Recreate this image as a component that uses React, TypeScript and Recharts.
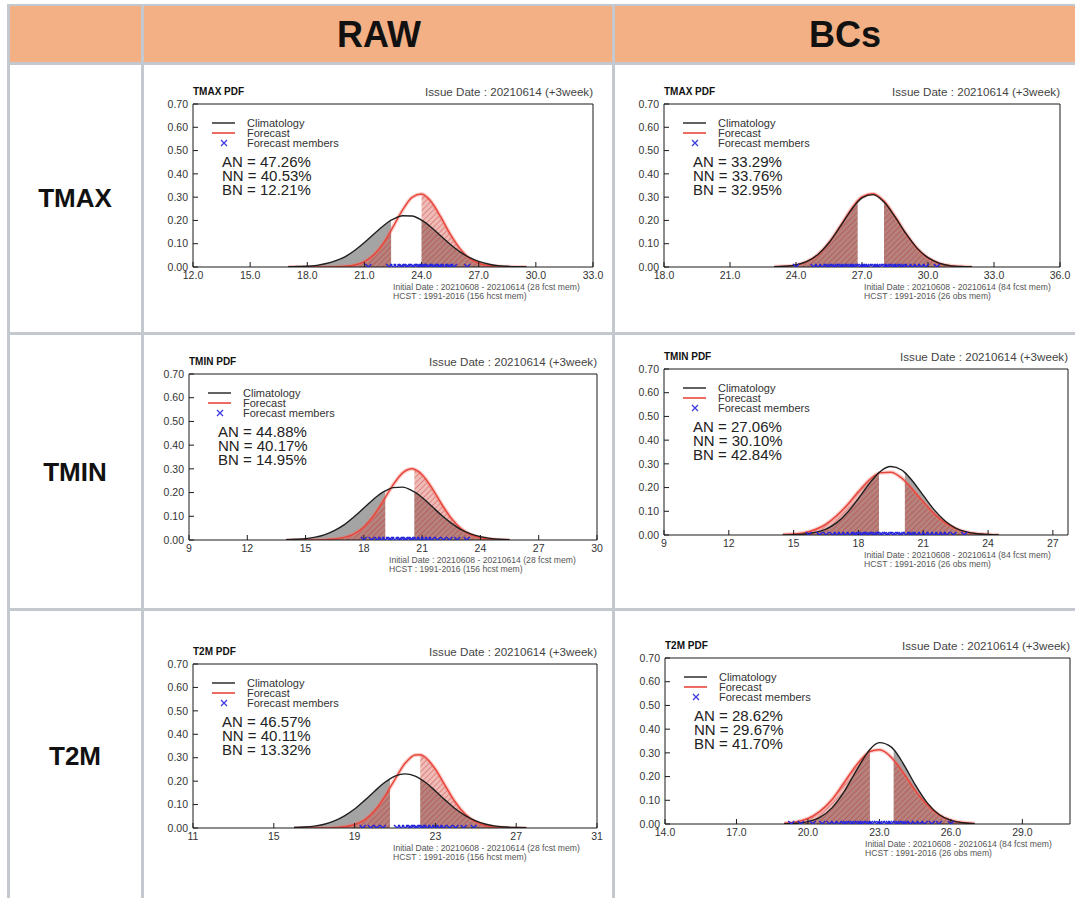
import React from "react";
import { Area, ComposedChart, Line, Scatter, XAxis, YAxis } from "recharts";

const FONT = '"Liberation Sans", Arial, Helvetica, sans-serif';

// shared y axis (probability density)
const yTicks = [0, 0.1, 0.2, 0.3, 0.4, 0.5, 0.6, 0.7];

// ---- RAW TMAX ----
const rawTmaxX = [17, 17.5, 18, 18.5, 19, 19.5, 20, 20.5, 21, 21.5, 22, 22.4, 22.5, 23, 23.5, 24, 24.5, 25, 25.5, 26, 26.5, 27, 27.5, 28, 28.5, 29, 29.5];
const rawTmaxClim = [0.001, 0.002, 0.003, 0.007, 0.015, 0.027, 0.045, 0.072, 0.105, 0.142, 0.177, 0.201, 0.205, 0.22, 0.219, 0.201, 0.171, 0.134, 0.098, 0.066, 0.041, 0.024, 0.013, 0.006, 0.003, 0.001, 0];
const rawTmaxFcst = [0, 0, 0, 0, 0, 0.001, 0.003, 0.009, 0.023, 0.053, 0.102, 0.157, 0.172, 0.244, 0.299, 0.313, 0.281, 0.216, 0.142, 0.081, 0.038, 0.016, 0.006, 0.002, 0.001, 0, 0];
const rawTmaxMembers = [21.2, 22.3, 22.5, 22.7, 22.9, 23.0, 23.2, 23.3, 23.5, 23.6, 23.8, 23.9, 24.0, 24.1, 24.3, 24.4, 24.6, 24.7, 24.9, 25.0, 25.2, 25.4, 25.5, 25.7, 26.4];
const rawTmaxTicks = [12, 15, 18, 21, 24, 27, 30, 33];
const rawTmaxTerciles = [22.4, 24.0];
const rawTmaxProbs = ["47.26", "40.53", "12.21"];

// ---- BCs TMAX ----
const bcTmaxX = [23, 23.5, 24, 24.5, 25, 25.5, 26, 26.5, 26.8, 27, 27.5, 28, 28.5, 29, 29.5, 30, 30.5, 31, 31.5, 32];
const bcTmaxClim = [0.001, 0.003, 0.009, 0.024, 0.054, 0.104, 0.172, 0.243, 0.279, 0.297, 0.311, 0.279, 0.215, 0.143, 0.081, 0.04, 0.017, 0.006, 0.002, 0];
const bcTmaxFcst = [0.001, 0.003, 0.008, 0.023, 0.053, 0.105, 0.174, 0.247, 0.284, 0.301, 0.315, 0.283, 0.217, 0.143, 0.081, 0.039, 0.016, 0.005, 0.002, 0];
const bcTmaxMembers = [24.0, 24.8, 25.0, 25.2, 25.4, 25.5, 25.7, 25.8, 26.0, 26.1, 26.2, 26.4, 26.5, 26.6, 26.7, 26.9, 27.0, 27.1, 27.2, 27.3, 27.5, 27.6, 27.7, 27.8, 28.0, 28.1, 28.2, 28.4, 28.5, 28.6, 28.8, 28.9, 29.1, 29.3, 29.5, 29.7, 29.9, 30.4];
const bcTmaxTicks = [18, 21, 24, 27, 30, 33, 36];
const bcTmaxTerciles = [26.8, 28.0];
const bcTmaxProbs = ["33.29", "33.76", "32.95"];

// ---- RAW TMIN ----
const rawTminX = [14, 14.5, 15, 15.5, 16, 16.5, 17, 17.5, 18, 18.5, 19, 19.1, 19.5, 20, 20.5, 20.6, 21, 21.5, 22, 22.5, 23, 23.5, 24, 24.5, 25, 25.5];
const rawTminClim = [0.001, 0.003, 0.006, 0.012, 0.023, 0.041, 0.065, 0.098, 0.135, 0.172, 0.203, 0.207, 0.221, 0.223, 0.207, 0.203, 0.179, 0.142, 0.104, 0.071, 0.044, 0.026, 0.014, 0.007, 0.003, 0.001];
const rawTminFcst = [0, 0, 0, 0, 0.001, 0.004, 0.011, 0.026, 0.055, 0.102, 0.166, 0.179, 0.232, 0.283, 0.3, 0.298, 0.275, 0.22, 0.152, 0.092, 0.048, 0.022, 0.009, 0.003, 0.001, 0];
const rawTminMembers = [18.0, 18.4, 18.7, 18.9, 19.1, 19.3, 19.4, 19.6, 19.8, 19.9, 20.1, 20.2, 20.4, 20.5, 20.7, 20.9, 21.1, 21.3, 21.5, 21.8, 22.1, 22.4, 22.8, 23.3];
const rawTminTicks = [9, 12, 15, 18, 21, 24, 27, 30];
const rawTminTerciles = [19.1, 20.6];
const rawTminProbs = ["44.88", "40.17", "14.95"];

// ---- BCs TMIN ----
const bcTminX = [14.5, 15, 15.5, 16, 16.5, 17, 17.5, 18, 18.5, 18.95, 19, 19.5, 20, 20.15, 20.5, 21, 21.5, 22, 22.5, 23, 23.5, 24, 24.5];
const bcTminClim = [0, 0.001, 0.004, 0.011, 0.025, 0.052, 0.096, 0.154, 0.216, 0.263, 0.267, 0.289, 0.274, 0.263, 0.228, 0.167, 0.107, 0.06, 0.029, 0.013, 0.005, 0.002, 0];
const bcTminFcst = [0.002, 0.004, 0.01, 0.023, 0.046, 0.082, 0.129, 0.183, 0.232, 0.261, 0.262, 0.265, 0.24, 0.228, 0.193, 0.14, 0.09, 0.052, 0.027, 0.012, 0.005, 0.002, 0.001];
const bcTminMembers = [15.7, 16.2, 16.5, 16.8, 17.0, 17.2, 17.4, 17.6, 17.8, 17.9, 18.1, 18.2, 18.4, 18.5, 18.7, 18.8, 19.0, 19.1, 19.3, 19.4, 19.6, 19.7, 19.9, 20.0, 20.2, 20.4, 20.5, 20.7, 20.9, 21.1, 21.3, 21.5, 21.7, 21.9, 22.1, 22.4, 22.9];
const bcTminTicks = [9, 12, 15, 18, 21, 24, 27];
const bcTminTerciles = [18.95, 20.15];
const bcTminProbs = ["27.06", "30.10", "42.84"];

// ---- RAW T2M ----
const rawT2mX = [16, 16.5, 17, 17.5, 18, 18.5, 19, 19.5, 20, 20.5, 20.75, 21, 21.5, 22, 22.25, 22.5, 23, 23.5, 24, 24.5, 25, 25.5, 26, 26.5, 27, 27.5];
const rawT2mClim = [0.002, 0.004, 0.008, 0.016, 0.03, 0.052, 0.081, 0.118, 0.158, 0.195, 0.21, 0.221, 0.231, 0.221, 0.21, 0.195, 0.158, 0.118, 0.081, 0.052, 0.03, 0.016, 0.008, 0.004, 0.002, 0.001];
const rawT2mFcst = [0, 0, 0, 0, 0.002, 0.005, 0.015, 0.035, 0.075, 0.135, 0.172, 0.208, 0.276, 0.312, 0.313, 0.302, 0.251, 0.179, 0.109, 0.057, 0.026, 0.01, 0.003, 0.001, 0, 0];
const rawT2mMembers = [19.4, 19.8, 20.1, 20.4, 21.1, 21.3, 21.5, 21.7, 21.8, 22.0, 22.1, 22.3, 22.4, 22.6, 22.8, 23.0, 23.2, 23.4, 23.7, 24.0, 24.4, 24.9];
const rawT2mTicks = [11, 15, 19, 23, 27, 31];
const rawT2mTerciles = [20.75, 22.25];
const rawT2mProbs = ["46.57", "40.11", "13.32"];

// ---- BCs T2M ----
const bcT2mX = [19, 19.5, 20, 20.5, 21, 21.5, 22, 22.5, 22.6, 23, 23.5, 23.6, 24, 24.5, 25, 25.5, 26, 26.5, 27];
const bcT2mClim = [0.001, 0.003, 0.01, 0.028, 0.067, 0.133, 0.22, 0.301, 0.314, 0.343, 0.324, 0.314, 0.255, 0.166, 0.09, 0.04, 0.015, 0.005, 0.001];
const bcT2mFcst = [0.003, 0.009, 0.023, 0.053, 0.102, 0.172, 0.244, 0.299, 0.306, 0.313, 0.281, 0.27, 0.216, 0.142, 0.081, 0.038, 0.016, 0.006, 0.002];
const bcT2mMembers = [19.3, 19.7, 20.2, 20.6, 20.9, 21.1, 21.3, 21.5, 21.6, 21.8, 21.9, 22.1, 22.2, 22.3, 22.5, 22.6, 22.7, 22.9, 23.0, 23.1, 23.3, 23.4, 23.5, 23.7, 23.8, 24.0, 24.1, 24.3, 24.5, 24.7, 24.9, 25.2, 25.5, 26.0];
const bcT2mTicks = [14, 17, 20, 23, 26, 29];
const bcT2mTerciles = [22.6, 23.6];
const bcT2mProbs = ["28.62", "29.67", "41.70"];

const rawFooter = ["Initial Date : 20210608 - 20210614 (28 fcst mem)", "HCST : 1991-2016 (156 hcst mem)"];
const bcFooter = ["Initial Date : 20210608 - 20210614 (84 fcst mem)", "HCST : 1991-2016 (26 obs mem)"];

type Panel = {
  id: string;
  title: string;
  xs: number[];
  clim: number[];
  fcst: number[];
  members: number[];
  ticks: number[];
  domain: [number, number];
  terciles: number[];
  probs: string[];
  digits: number;
  footer: string[];
  box: [number, number, number, number]; // plot left, top, right, bottom (page px)
};

const panels: Panel[] = [
  { id: "rtx", title: "TMAX PDF", xs: rawTmaxX, clim: rawTmaxClim, fcst: rawTmaxFcst, members: rawTmaxMembers, ticks: rawTmaxTicks, domain: [12, 33], terciles: rawTmaxTerciles, probs: rawTmaxProbs, digits: 1, footer: rawFooter, box: [193, 104, 593, 267] },
  { id: "btx", title: "TMAX PDF", xs: bcTmaxX, clim: bcTmaxClim, fcst: bcTmaxFcst, members: bcTmaxMembers, ticks: bcTmaxTicks, domain: [18, 36], terciles: bcTmaxTerciles, probs: bcTmaxProbs, digits: 1, footer: bcFooter, box: [664, 104, 1060, 267] },
  { id: "rtn", title: "TMIN PDF", xs: rawTminX, clim: rawTminClim, fcst: rawTminFcst, members: rawTminMembers, ticks: rawTminTicks, domain: [9, 30], terciles: rawTminTerciles, probs: rawTminProbs, digits: 0, footer: rawFooter, box: [189, 374, 597, 540] },
  { id: "btn", title: "TMIN PDF", xs: bcTminX, clim: bcTminClim, fcst: bcTminFcst, members: bcTminMembers, ticks: bcTminTicks, domain: [9, 27.7], terciles: bcTminTerciles, probs: bcTminProbs, digits: 0, footer: bcFooter, box: [664, 369, 1068, 535] },
  { id: "rt2", title: "T2M PDF", xs: rawT2mX, clim: rawT2mClim, fcst: rawT2mFcst, members: rawT2mMembers, ticks: rawT2mTicks, domain: [11, 31], terciles: rawT2mTerciles, probs: rawT2mProbs, digits: 0, footer: rawFooter, box: [193, 664, 597, 828] },
  { id: "bt2", title: "T2M PDF", xs: bcT2mX, clim: bcT2mClim, fcst: bcT2mFcst, members: bcT2mMembers, ticks: bcT2mTicks, domain: [14, 31], terciles: bcT2mTerciles, probs: bcT2mProbs, digits: 1, footer: bcFooter, box: [665, 658, 1070, 824] },
];

function Cross(props: any) {
  const { cx, cy } = props;
  if (cx == null || cy == null) return null;
  const s = 3;
  return (
    <path
      d={`M${cx - s},${cy - s}L${cx + s},${cy + s}M${cx - s},${cy + s}L${cx + s},${cy - s}`}
      stroke="#2424dc"
      strokeWidth={1.4}
      fill="none"
    />
  );
}

function minorTicks(domain: [number, number]) {
  const out: number[] = [];
  for (let v = Math.ceil(domain[0]); v <= domain[1]; v += 1) out.push(v);
  return out;
}

const txt = (extra: React.CSSProperties): React.CSSProperties => ({
  position: "absolute",
  fontFamily: FONT,
  color: "#2a2a2a",
  whiteSpace: "nowrap",
  lineHeight: 1,
  ...extra,
});

function PdfPanel({ p }: { p: Panel }) {
  const [L, T, R, B] = p.box;
  const w = R - L;
  const h = B - T;
  const [t1, t2] = p.terciles;
  const rows = p.xs.map((x, i) => ({
    x,
    clim: p.clim[i],
    fcst: p.fcst[i],
    climBN: x <= t1 ? p.clim[i] : null,
    climAN: x >= t2 ? p.clim[i] : null,
    fcstBN: x <= t1 ? p.fcst[i] : null,
    fcstAN: x >= t2 ? p.fcst[i] : null,
  }));
  const pts = p.members.map((x) => ({ x, y: 0 }));
  const minor = minorTicks(p.domain);
  const hatch = `hatch-${p.id}`;
  const axisStroke = "#1a1a1a";
  const tickStyle = { fill: "#333", fontSize: 10.5, fontFamily: FONT };

  return (
    <>
      <div style={{ position: "absolute", left: L - 44, top: T - 6 }}>
        <ComposedChart width={w + 64} height={h + 30} data={rows} margin={{ top: 6, right: 20, bottom: 0, left: 0 }}>
          <defs>
            <pattern id={hatch} width="4" height="4" patternUnits="userSpaceOnUse" patternTransform="rotate(45)">
              <rect width="4" height="4" fill="rgba(212,70,58,0.36)" />
              <line x1="0" y1="0" x2="0" y2="4" stroke="rgba(185,35,30,0.6)" strokeWidth="1.2" />
            </pattern>
          </defs>
          <XAxis
            xAxisId="b"
            dataKey="x"
            type="number"
            domain={p.domain}
            ticks={p.ticks}
            interval={0}
            allowDataOverflow
            tickFormatter={(v: number) => v.toFixed(p.digits)}
            tickSize={-5}
            tickMargin={10}
            height={24}
            stroke={axisStroke}
            tick={tickStyle}
          />
          <XAxis xAxisId="bm" type="number" domain={p.domain} ticks={minor} interval={0} allowDataOverflow mirror height={1} tick={false} axisLine={false} tickSize={3} stroke={axisStroke} />
          <XAxis xAxisId="t" type="number" orientation="top" domain={p.domain} ticks={p.ticks} interval={0} allowDataOverflow mirror height={1} tick={false} tickSize={5} stroke={axisStroke} />
          <XAxis xAxisId="tm" type="number" orientation="top" domain={p.domain} ticks={minor} interval={0} allowDataOverflow mirror height={1} tick={false} axisLine={false} tickSize={3} stroke={axisStroke} />
          <YAxis
            yAxisId="l"
            type="number"
            domain={[0, 0.7]}
            ticks={yTicks}
            interval={0}
            allowDataOverflow
            tickFormatter={(v: number) => v.toFixed(2)}
            tickSize={-5}
            tickMargin={10}
            width={44}
            stroke={axisStroke}
            tick={tickStyle}
          />
          <YAxis yAxisId="r" type="number" orientation="right" domain={[0, 0.7]} ticks={yTicks} interval={0} allowDataOverflow mirror width={1} tick={false} tickSize={5} stroke={axisStroke} />

          <Area xAxisId="b" yAxisId="l" type="monotone" dataKey="climBN" stroke="none" fill="#717171" fillOpacity={0.64} dot={false} activeDot={false} isAnimationActive={false} />
          <Area xAxisId="b" yAxisId="l" type="monotone" dataKey="climAN" stroke="none" fill="#717171" fillOpacity={0.64} dot={false} activeDot={false} isAnimationActive={false} />
          <Area xAxisId="b" yAxisId="l" type="monotone" dataKey="fcstBN" stroke="none" fill={`url(#${hatch})`} fillOpacity={1} dot={false} activeDot={false} isAnimationActive={false} />
          <Area xAxisId="b" yAxisId="l" type="monotone" dataKey="fcstAN" stroke="none" fill={`url(#${hatch})`} fillOpacity={1} dot={false} activeDot={false} isAnimationActive={false} />
          {/* soft halo under the forecast curve */}
          <Line xAxisId="b" yAxisId="l" type="monotone" dataKey="fcst" stroke="rgba(240,120,110,0.35)" strokeWidth={4} dot={false} activeDot={false} isAnimationActive={false} />
          <Line xAxisId="b" yAxisId="l" type="monotone" dataKey="fcst" stroke="#e8463c" strokeWidth={1.5} dot={false} activeDot={false} isAnimationActive={false} />
          <Line xAxisId="b" yAxisId="l" type="monotone" dataKey="clim" stroke="#1f1f1f" strokeWidth={1.4} dot={false} activeDot={false} isAnimationActive={false} />
          <Scatter xAxisId="b" yAxisId="l" data={pts} dataKey="y" shape={<Cross />} isAnimationActive={false} />
        </ComposedChart>
      </div>

      {/* title row */}
      <div style={txt({ left: L, top: T - 17, fontSize: 10, fontWeight: 700, color: "#111" })}>{p.title}</div>
      <div style={txt({ left: R - 260, width: 260, top: T - 18, fontSize: 11.6, textAlign: "right", color: "#444" })}>
        Issue Date : 20210614 (+3week)
      </div>

      {/* legend */}
      <svg style={{ position: "absolute", left: L + 14, top: T + 12 }} width={34} height={32}>
        <line x1={5} y1={7} x2={28} y2={7} stroke="#1f1f1f" strokeWidth={1.4} />
        <line x1={5} y1={17} x2={28} y2={17} stroke="#e8463c" strokeWidth={1.6} />
        <path d="M14,24L20,30M14,30L20,24" stroke="#3a3ae0" strokeWidth={1.3} />
      </svg>
      {["Climatology", "Forecast", "Forecast members"].map((s, i) => (
        <div key={s} style={txt({ left: L + 54, top: T + 14 + i * 10, fontSize: 11, lineHeight: "10px", color: "#333" })}>
          {s}
        </div>
      ))}

      {/* tercile probabilities */}
      {["AN", "NN", "BN"].map((k, i) => (
        <div key={k} style={txt({ left: L + 29, top: T + 51 + i * 14, fontSize: 15, lineHeight: "14px", color: "#222" })}>
          {k} = {p.probs[i]}%
        </div>
      ))}

      {/* footer */}
      {p.footer.map((s, i) => (
        <div key={s} style={txt({ left: L + 200, top: B + 16 + i * 9, fontSize: 8.6, lineHeight: "9px", color: "#555" })}>
          {s}
        </div>
      ))}
    </>
  );
}

const columnHeads = ["RAW", "BCs"];
const rowHeads = ["TMAX", "TMIN", "T2M"];

export default function App() {
  const line = "#c3c9cf";
  const colX = [8, 142, 613];
  const rowY = [63, 333, 609];
  const headCenters = [379, 845];
  const rowCenters = [197, 471, 755];

  return (
    <div style={{ position: "absolute", left: 0, top: 0, width: 1075, height: 898, background: "#fff", overflow: "hidden" }}>
      <div style={{ position: "absolute", left: 8, top: 5, width: 1067, height: 58, background: "#f2b084" }} />
      <div style={{ position: "absolute", left: 8, top: 4, width: 1067, height: 2, background: line }} />
      {colX.map((x) => (
        <div key={x} style={{ position: "absolute", left: x - 1, top: 4, width: 3, height: 894, background: line }} />
      ))}
      {rowY.map((y) => (
        <div key={y} style={{ position: "absolute", left: 8, top: y - 1, width: 1067, height: 3, background: line }} />
      ))}

      {columnHeads.map((s, i) => (
        <div key={s} style={txt({ left: headCenters[i] - 100, width: 200, top: 17, fontSize: 36, fontWeight: 700, textAlign: "center", color: "#111" })}>
          {s}
        </div>
      ))}
      {rowHeads.map((s, i) => (
        <div key={s} style={txt({ left: 8, width: 134, top: rowCenters[i] - 12, fontSize: 26, fontWeight: 700, textAlign: "center", color: "#111" })}>
          {s}
        </div>
      ))}

      {panels.map((p) => (
        <PdfPanel key={p.id} p={p} />
      ))}
    </div>
  );
}
